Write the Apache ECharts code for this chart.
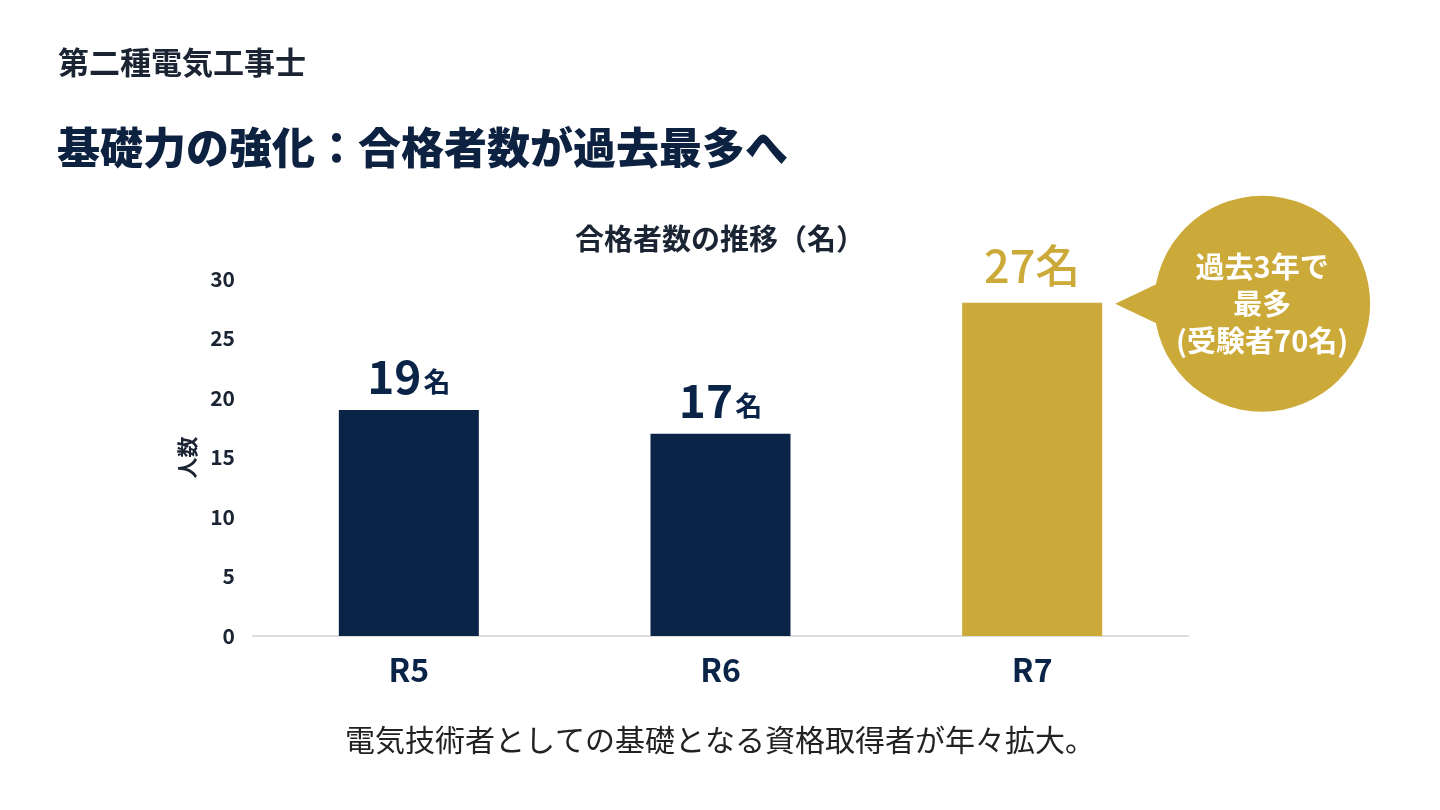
<!DOCTYPE html>
<html>
<head>
<meta charset="utf-8">
<script src="https://cdn.jsdelivr.net/npm/echarts@6/dist/echarts.min.js"></script>
<style>
html, body { margin: 0; padding: 0; background: #ffffff; }
#main { width: 1440px; height: 810px; }
</style>
</head>
<body>
<div id="main"></div>
<script>
// 年度
const years = ['R5', 'R6', 'R7'];
// 合格者数（棒の高さは図から読み取り）
const passCounts = [19, 17, 28];
// 棒の上のラベル
const passLabels = ['19', '17', '27'];
const yTicks = [0, 5, 10, 15, 20, 25, 30];

const NAVY = '#0a2447';
const GOLD = '#ccaa3a';
const FONT = '"Noto Sans CJK JP", "Noto Sans", sans-serif';

const dom = document.getElementById('main');
const myChart = echarts.init(dom);

const option = {
	backgroundColor: '#ffffff',
	textStyle: { fontFamily: FONT },
	title: [{
		text: '第二種電気工事士',
		left: 53, top: 42,
		textStyle: { fontFamily: FONT, fontSize: 31, fontWeight: 'bold', color: '#1b2433' }
	}, {
		text: '基礎力の強化：合格者数が過去最多へ',
		left: 52, top: 121,
		textStyle: { fontFamily: FONT, fontSize: 43, fontWeight: 900, color: '#0d2240' }
	}, {
		text: '合格者数の推移（名）',
		left: 'center', top: 219,
		textStyle: { fontFamily: FONT, fontSize: 29, fontWeight: 'bold', color: '#1b2433' }
	}, {
		text: '電気技術者としての基礎となる資格取得者が年々拡大。',
		left: 'center', top: 720,
		textStyle: { fontFamily: FONT, fontSize: 30, fontWeight: 'normal', color: '#222222' }
	}],
	grid: { left: 253, right: 252, top: 279, bottom: 174 },
	xAxis: {
		type: 'category',
		data: years,
		axisLine: { lineStyle: { color: '#dddddd', width: 2 } },
		axisTick: { show: false },
		axisLabel: { margin: 18, fontSize: 32, fontWeight: 'bold', color: NAVY, fontFamily: FONT }
	},
	yAxis: {
		type: 'value',
		min: 0, max: 30, interval: 5,
		name: '人数',
		nameLocation: 'middle',
		nameGap: 55,
		nameRotate: 90,
		nameTextStyle: { fontSize: 21, fontWeight: 'bold', color: '#1b2433', fontFamily: FONT },
		axisLine: { show: false },
		axisTick: { show: false },
		splitLine: { show: false },
		axisLabel: {
			margin: 18, fontSize: 21, fontWeight: 'bold', color: '#1b2433', fontFamily: FONT,
			formatter: v => yTicks.includes(v) ? String(v) : ''
		}
	},
	series: [{
		type: 'bar',
		barWidth: 140,
		data: passCounts.map((v, i) => {
			const last = i === passCounts.length - 1;
			return {
				value: v,
				itemStyle: { color: last ? GOLD : NAVY },
				label: {
					show: true,
					position: 'top',
					distance: last ? 14 : 10,
					formatter: last ? '{g|' + passLabels[i] + '名}' : '{n|' + passLabels[i] + '}{u|名}',
					rich: {
						n: { fontSize: 46, fontWeight: 'bold', color: NAVY, fontFamily: FONT },
						u: { fontSize: 27, fontWeight: 'bold', color: NAVY, fontFamily: FONT, padding: [10, 0, 0, 2] },
						g: { fontSize: 45, fontWeight: 500, color: GOLD, fontFamily: FONT }
					}
				}
			};
		})
	}]
};

myChart.setOption(option);

// 吹き出し（R7の棒の右上に配置）
function drawBubble() {
	const last = years.length - 1;
	const top = myChart.convertToPixel({ seriesIndex: 0 }, [last, passCounts[last]]);
	const tipX = top[0] + 70 + 13;
	const tipY = top[1] + 1;
	const cx = tipX + 147, cy = tipY;
	const r = 108;
	myChart.setOption({
		graphic: [{
			type: 'polygon',
			shape: { points: [[tipX, tipY], [cx - r + 20, cy - 28], [cx - r + 20, cy + 28]] },
			style: { fill: GOLD }
		}, {
			type: 'circle',
			shape: { cx: cx, cy: cy, r: r },
			style: { fill: GOLD }
		}, {
			type: 'text',
			x: cx, y: cy,
			style: {
				text: '過去3年で\n最多\n(受験者70名)',
				fill: '#ffffff',
				font: 'bold 29px ' + FONT,
				lineHeight: 37,
				align: 'center',
				verticalAlign: 'middle'
			}
		}]
	});
}
drawBubble();
</script>
</body>
</html>
